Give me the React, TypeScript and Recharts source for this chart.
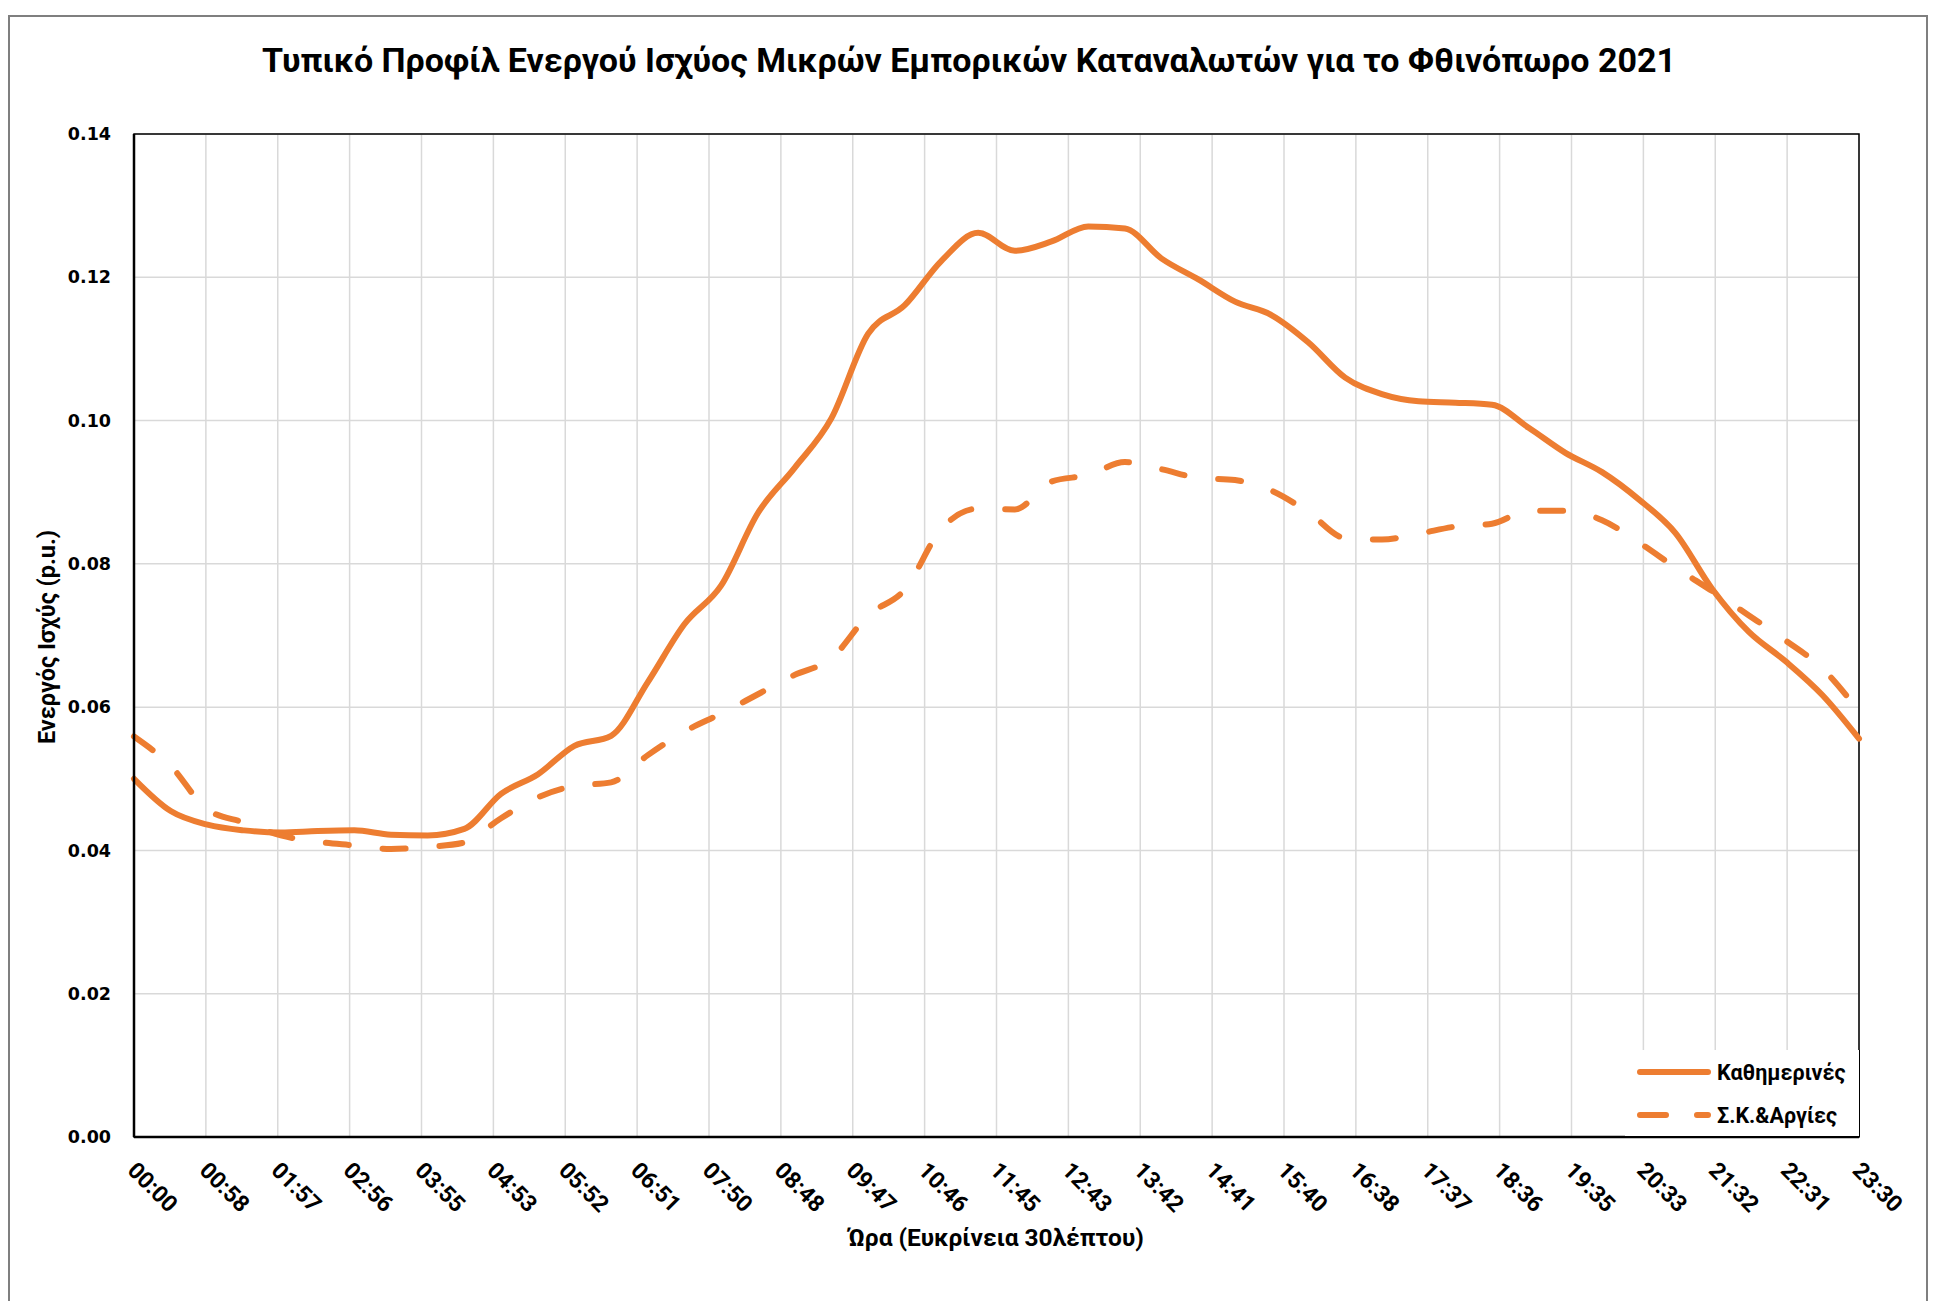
import React from "react";
import {
  LineChart,
  Line,
  XAxis,
  YAxis,
  CartesianGrid,
  Legend,
  ReferenceArea,
} from "recharts";

// half-hour resolution
const TIMES = [
  "00:00", "00:30", "01:00", "01:30", "02:00", "02:30", "03:00", "03:30",
  "04:00", "04:30", "05:00", "05:30", "06:00", "06:30", "07:00", "07:30",
  "08:00", "08:30", "09:00", "09:30", "10:00", "10:30", "11:00", "11:30",
  "12:00", "12:30", "13:00", "13:30", "14:00", "14:30", "15:00", "15:30",
  "16:00", "16:30", "17:00", "17:30", "18:00", "18:30", "19:00", "19:30",
  "20:00", "20:30", "21:00", "21:30", "22:00", "22:30", "23:00", "23:30",
];

const WEEKDAYS = [
  0.05, 0.0455, 0.0436, 0.0428, 0.0425, 0.0427, 0.0428, 0.0422,
  0.0421, 0.043, 0.0479, 0.0506, 0.0546, 0.056, 0.0635, 0.0716,
  0.077, 0.0871, 0.0934, 0.1003, 0.1121, 0.1161, 0.1223, 0.1262,
  0.1237, 0.125, 0.1271, 0.1268, 0.1226, 0.1197, 0.1166, 0.1147,
  0.1109, 0.106, 0.1037, 0.1027, 0.1025, 0.1022, 0.099, 0.0955,
  0.0928, 0.089, 0.0843, 0.0765, 0.0705, 0.0664, 0.0617, 0.0556,
];

const WEEKENDS = [
  0.0559, 0.0518, 0.0457, 0.0439, 0.0421, 0.0412, 0.0407, 0.0402,
  0.0405, 0.0411, 0.0445, 0.0474, 0.049, 0.0495, 0.0533, 0.0566,
  0.0591, 0.0618, 0.0645, 0.0668, 0.0728, 0.0764, 0.0849, 0.0877,
  0.0876, 0.0915, 0.0924, 0.0942, 0.0932, 0.092, 0.0917, 0.0902,
  0.0872, 0.0836, 0.0834, 0.0842, 0.0852, 0.0856, 0.0874, 0.0874,
  0.0861, 0.083, 0.0795, 0.0762, 0.0728, 0.0693, 0.0654, 0.0594,
];

const X_TICK_LABELS = [
  "00:00", "00:58", "01:57", "02:56", "03:55", "04:53", "05:52", "06:51",
  "07:50", "08:48", "09:47", "10:46", "11:45", "12:43", "13:42", "14:41",
  "15:40", "16:38", "17:37", "18:36", "19:35", "20:33", "21:32", "22:31",
  "23:30",
];

const Y_TICKS = [0, 0.02, 0.04, 0.06, 0.08, 0.1, 0.12, 0.14];

const ORANGE = "#ED7D31";
const FONT = "Roboto, 'Noto Sans', sans-serif";

const toHours = (s: string) => {
  const [h, m] = s.split(":").map(Number);
  return h + m / 60;
};

const data = TIMES.map((t, i) => ({
  t: toHours(t),
  weekday: WEEKDAYS[i],
  weekend: WEEKENDS[i],
}));

const X_END = toHours(TIMES[TIMES.length - 1]);
const X_TICKS = X_TICK_LABELS.map((_, i) => (i * X_END) / (X_TICK_LABELS.length - 1));

function TimeTick(props: any) {
  const { x, y, payload } = props;
  const idx = Math.round((payload.value / X_END) * (X_TICK_LABELS.length - 1));
  return (
    <text
      transform={`translate(${x + 4},${y + 23}) rotate(45)`}
      dy="0.72em"
      textAnchor="start"
      fontFamily={FONT}
      fontWeight={700}
      fontSize={23}
      fill="#000"
    >
      {X_TICK_LABELS[idx]}
    </text>
  );
}

function LegendBox() {
  const text = { fontFamily: FONT, fontWeight: 700, fontSize: 21.5, fill: "#000" };
  return (
    <div
      style={{
        width: 235,
        height: 87,
        background: "#fff",
        borderRight: "1.5px solid #000",
        borderBottom: "1.5px solid #000",
        boxSizing: "border-box",
      }}
    >
      <svg width={234} height={86} style={{ display: "block" }}>
        <line x1={15} x2={83} y1={22} y2={22} stroke={ORANGE} strokeWidth={6} strokeLinecap="round" />
        <text x={92} y={22} dominantBaseline="central" {...text}>
          Καθημερινές
        </text>
        <line
          x1={15}
          x2={83}
          y1={65}
          y2={65}
          stroke={ORANGE}
          strokeWidth={6}
          strokeLinecap="round"
          strokeDasharray="26 31"
        />
        <text x={92} y={65} dominantBaseline="central" {...text}>
          Σ.Κ.&amp;Αργίες
        </text>
      </svg>
    </div>
  );
}

export default function App() {
  return (
    <div style={{ position: "absolute", left: 0, top: 0, width: 1941, height: 1301, background: "#fff", overflow: "hidden" }}>
      <div
        style={{
          position: "absolute",
          left: 8,
          top: 15,
          width: 1920,
          height: 1300,
          border: "2px solid #7f7f7f",
          boxSizing: "border-box",
        }}
      />
      <div
        style={{
          position: "absolute",
          left: 0,
          top: 40,
          width: 1938,
          textAlign: "center",
          fontFamily: FONT,
          fontWeight: 700,
          fontSize: 34,
          lineHeight: "40px",
          color: "#000",
        }}
      >
        Τυπικό Προφίλ Ενεργού Ισχύος Μικρών Εμπορικών Καταναλωτών για το Φθινόπωρο 2021
      </div>
      <div
        style={{
          position: "absolute",
          left: 696,
          top: 1223,
          width: 600,
          textAlign: "center",
          fontFamily: FONT,
          fontWeight: 700,
          fontSize: 24.5,
          lineHeight: "30px",
          color: "#000",
        }}
      >
        Ώρα (Ευκρίνεια 30λέπτου)
      </div>
      <div
        style={{
          position: "absolute",
          left: 47 - 150,
          top: 637 - 15,
          width: 300,
          textAlign: "center",
          transform: "rotate(-90deg)",
          fontFamily: FONT,
          fontWeight: 700,
          fontSize: 23.5,
          lineHeight: "30px",
          color: "#000",
        }}
      >
        Ενεργός Ισχύς (p.u.)
      </div>
      <div style={{ position: "absolute", left: 0, top: 0 }}>
        <LineChart
          width={1941}
          height={1301}
          data={data}
          margin={{ top: 134, right: 82, bottom: 64, left: 74 }}
        >
          <CartesianGrid stroke="#d9d9d9" strokeWidth={1.5} />
          <XAxis
            dataKey="t"
            type="number"
            domain={[0, X_END]}
            ticks={X_TICKS}
            interval={0}
            height={100}
            tickLine={false}
            tickSize={0}
            tickMargin={0}
            axisLine={{ stroke: "#000", strokeWidth: 2.5 }}
            tick={<TimeTick />}
          />
          <YAxis
            type="number"
            domain={[0, 0.14]}
            ticks={Y_TICKS}
            interval={0}
            width={60}
            tickLine={false}
            tickSize={0}
            tickMargin={23}
            axisLine={{ stroke: "#000", strokeWidth: 2.5 }}
            tickFormatter={(v) => Number(v).toFixed(2)}
            tick={{ fontFamily: "'DejaVu Sans', Verdana, sans-serif", fontWeight: 700, fontSize: 17.5, fill: "#000" }}
          />
          <ReferenceArea
            x1={0}
            x2={X_END}
            y1={0}
            y2={0.14}
            fill="none"
            fillOpacity={0}
            stroke="#000"
            strokeWidth={1.5}
            ifOverflow="visible"
          />
          <Line
            type="monotone"
            dataKey="weekday"
            name="Καθημερινές"
            stroke={ORANGE}
            strokeWidth={6}
            strokeLinecap="round"
            dot={false}
            isAnimationActive={false}
          />
          <Line
            type="monotone"
            dataKey="weekend"
            name="Σ.Κ.&Αργίες"
            stroke={ORANGE}
            strokeWidth={6}
            strokeLinecap="round"
            strokeDasharray="23 34"
            dot={false}
            isAnimationActive={false}
          />
          <Legend
            layout="vertical"
            align="center"
            verticalAlign="middle"
            wrapperStyle={{ left: 1625, top: 1050, width: 235, height: 87 }}
            content={() => <LegendBox />}
          />
        </LineChart>
      </div>
    </div>
  );
}
